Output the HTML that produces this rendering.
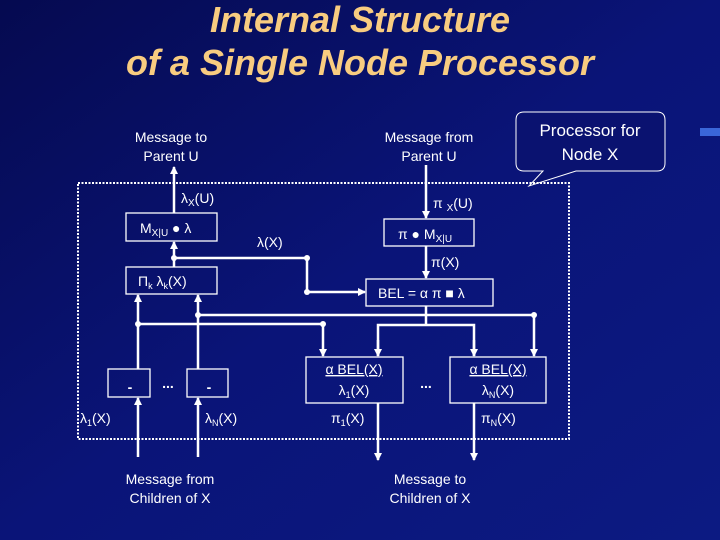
<!DOCTYPE html>
<html><head><meta charset="utf-8"><style>
html,body{margin:0;padding:0;width:720px;height:540px;overflow:hidden;background:#0a1270;}
svg{display:block}
text{font-family:"Liberation Sans",sans-serif;fill:#fff}
</style></head><body>
<svg width="720" height="540" viewBox="0 0 720 540" xmlns="http://www.w3.org/2000/svg">
<defs>
<linearGradient id="bg" x1="0" y1="0" x2="1" y2="1">
<stop offset="0" stop-color="#050a50"/><stop offset="0.5" stop-color="#0a1478"/><stop offset="1" stop-color="#0c1a82"/>
</linearGradient>
<marker id="ah" markerWidth="8" markerHeight="8" refX="7" refY="4" orient="auto" markerUnits="userSpaceOnUse" viewBox="0 0 8 8"><path d="M0,0 L8,4 L0,8 z" fill="#fff"/></marker>
</defs>
<rect width="720" height="540" fill="url(#bg)"/>
<rect x="700" y="128" width="20" height="8" fill="#3a66d8"/>
<text x="360" y="32" font-size="36" font-weight="bold" font-style="italic" text-anchor="middle" style="fill:#f8cc80">Internal Structure</text>
<text x="360" y="75" font-size="36" font-weight="bold" font-style="italic" text-anchor="middle" style="fill:#f8cc80">of a Single Node Processor</text>
<g font-size="14" text-anchor="middle">
<text x="171" y="142">Message to</text><text x="171" y="161">Parent U</text>
<text x="429" y="142">Message from</text><text x="429" y="161">Parent U</text>
<text x="170" y="484">Message from</text><text x="170" y="503">Children of X</text>
<text x="430" y="484">Message to</text><text x="430" y="503">Children of X</text>
</g>
<path d="M529,186 L543,171 L524,171 Q516,171 516,163 L516,120 Q516,112 524,112 L657,112 Q665,112 665,120 L665,163 Q665,171 657,171 L576,171 Z" fill="#0a1270" stroke="#fff" stroke-width="1"/>
<text x="590" y="136" font-size="17" text-anchor="middle">Processor for</text>
<text x="590" y="160" font-size="17" text-anchor="middle">Node X</text>
<rect x="78" y="183" width="491" height="256" fill="none" stroke="#fff" stroke-width="2" stroke-dasharray="2,1.5"/>
<g stroke="#fff" stroke-width="1.3" fill="none">
<rect x="126" y="213" width="91" height="28"/>
<rect x="126" y="267" width="91" height="27"/>
<rect x="384" y="219" width="90" height="27"/>
<rect x="366" y="279" width="127" height="27"/>
<rect x="306" y="357" width="97" height="46"/>
<rect x="450" y="357" width="96" height="46"/>
<rect x="108" y="369" width="42" height="28"/>
<rect x="187" y="369" width="41" height="28"/>
</g>
<g stroke="#fff" stroke-width="2.5" fill="none">
<line x1="174" y1="213" x2="174" y2="167" marker-end="url(#ah)"/>
<line x1="174" y1="267" x2="174" y2="242" marker-end="url(#ah)"/>
<polyline points="174,258 307,258 307,292 365,292" marker-end="url(#ah)"/>
<line x1="426" y1="165" x2="426" y2="218" marker-end="url(#ah)"/>
<line x1="426" y1="246" x2="426" y2="278" marker-end="url(#ah)"/>
<line x1="138" y1="457" x2="138" y2="398" marker-end="url(#ah)"/>
<line x1="198" y1="457" x2="198" y2="398" marker-end="url(#ah)"/>
<line x1="138" y1="369" x2="138" y2="295" marker-end="url(#ah)"/>
<line x1="198" y1="369" x2="198" y2="295" marker-end="url(#ah)"/>
<polyline points="138,324 323,324 323,356" marker-end="url(#ah)"/>
<polyline points="198,315 534,315 534,356" marker-end="url(#ah)"/>
<line x1="426" y1="306" x2="426" y2="325"/>
<polyline points="378,356 378,325 474,325 474,356"/>
<line x1="378" y1="340" x2="378" y2="356" marker-end="url(#ah)"/>
<line x1="474" y1="340" x2="474" y2="356" marker-end="url(#ah)"/>
<line x1="378" y1="403" x2="378" y2="460" marker-end="url(#ah)"/>
<line x1="474" y1="403" x2="474" y2="460" marker-end="url(#ah)"/>
</g>
<g fill="#fff">
<circle cx="174" cy="258" r="3"/><circle cx="307" cy="258" r="3"/><circle cx="307" cy="292" r="3"/>
<circle cx="138" cy="324" r="3"/><circle cx="323" cy="324" r="3"/>
<circle cx="198" cy="315" r="3"/><circle cx="534" cy="315" r="3"/>
</g>
<g font-size="14">
<text x="181" y="203">λ<tspan font-size="10" dy="3">X</tspan><tspan dy="-3">(U)</tspan></text>
<text x="140" y="233">M<tspan font-size="10" dy="3">X|U</tspan><tspan dy="-3"> ● λ</tspan></text>
<text x="257" y="247">λ(X)</text>
<text x="138" y="286">Π<tspan font-size="9" dy="3">k</tspan><tspan dy="-3">  λ</tspan><tspan font-size="9" dy="3">k</tspan><tspan dy="-3">(X)</tspan></text>
<text x="433" y="208">π <tspan font-size="10" dy="3">X</tspan><tspan dy="-3">(U)</tspan></text>
<text x="398" y="239">π ● M<tspan font-size="10" dy="3">X|U</tspan></text>
<text x="431" y="267">π(X)</text>
<text x="378" y="298">BEL = α  π ■  λ</text>
<text x="354" y="374" text-anchor="middle" text-decoration="underline">α BEL(X)</text>
<text x="354" y="395" text-anchor="middle">λ<tspan font-size="9" dy="3">1</tspan><tspan dy="-3">(X)</tspan></text>
<text x="498" y="374" text-anchor="middle" text-decoration="underline">α BEL(X)</text>
<text x="498" y="395" text-anchor="middle">λ<tspan font-size="9" dy="3">N</tspan><tspan dy="-3">(X)</tspan></text>
<text x="426" y="388" text-anchor="middle" font-weight="bold">...</text>
<text x="168" y="388" text-anchor="middle" font-weight="bold">...</text>
<text x="130" y="392" font-weight="bold" text-anchor="middle">-</text>
<text x="209" y="392" font-weight="bold" text-anchor="middle">-</text>
<text x="80" y="423">λ<tspan font-size="9" dy="3">1</tspan><tspan dy="-3">(X)</tspan></text>
<text x="205" y="423">λ<tspan font-size="9" dy="3">N</tspan><tspan dy="-3">(X)</tspan></text>
<text x="331" y="423">π<tspan font-size="9" dy="3">1</tspan><tspan dy="-3">(X)</tspan></text>
<text x="481" y="423">π<tspan font-size="9" dy="3">N</tspan><tspan dy="-3">(X)</tspan></text>
</g>
</svg>
</body></html>
